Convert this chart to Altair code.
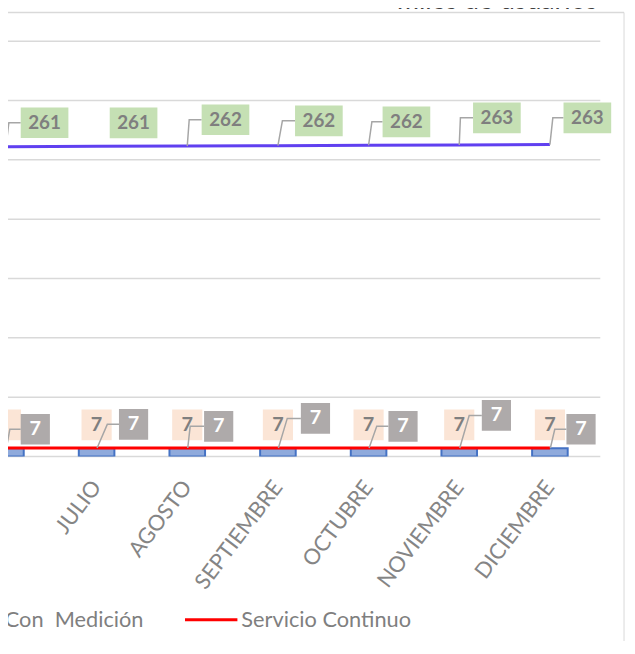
import altair as alt
import pandas as pd

# ---------------- data ----------------
months = ["JUNIO", "JULIO", "AGOSTO", "SEPTIEMBRE", "OCTUBRE", "NOVIEMBRE", "DICIEMBRE"]
usuarios_totales = [261.1, 261.4, 261.6, 261.9, 262.3, 262.6, 262.9]   # blue line
con_medicion = [6.9, 6.9, 6.9, 6.9, 6.9, 6.9, 6.9]                     # bars
servicio_continuo = [7.2, 7.2, 7.2, 7.2, 7.2, 7.2, 7.2]                # red line
y_ticks = [0, 50, 100, 150, 200, 250, 300, 350]
legend_labels = ["Con  Medición", "Servicio Continuo"]
title_text = "miles de usuarios"

# ---------------- layout / style ----------------
PX_X = 93.2                 # pixels per month
W, H = 616, 420
GRID_W = 599
XMIN = 0.0773
XMAX = XMIN + W / PX_X
YMAX = 350
PX_Y = H / YMAX
FONT = "Lato"
GRAY_TXT = "#7F7F7F"

# data-label placement (pixel offsets from the data point)
green_dx = [39.7, 38.0, 39.3, 42.1, 38.9, 38.7, 38.5]
green_dy = [24.2, 23.8, 26.6, 25.2, 23.7, 27.4, 27.0]
green_knee = [3.0, None, 2.0, 4.6, 3.4, 1.2, 3.0]
gray_dx = [30.2, 38.0, 32.3, 38.6, 35.4, 38.2, 32.0]
gray_dy = [18.9, 23.9, 21.9, 29.9, 21.9, 32.9, 18.9]
gray_knee = [4.0, 11.0, 3.0, 9.6, 8.4, 10.2, 5.0]
peach_dx = [0, 0, 0, 0, 0, 0, 0]
peach_dy = [23.7, 23.7, 23.7, 23.7, 23.7, 23.7, 23.7]


def boxes(values, dx, dy, w, h):
    rows = []
    for i, (v, a, b) in enumerate(zip(values, dx, dy)):
        cx = i + a / PX_X
        cy = v + b / PX_Y
        rows.append(dict(i=i, cx=cx, cy=cy,
                         x0=cx - w / 2 / PX_X, x1=cx + w / 2 / PX_X,
                         y0=cy - h / 2 / PX_Y, y1=cy + h / 2 / PX_Y,
                         label=f"{v:.0f}"))
    return pd.DataFrame(rows)


def leaders(values, dx, dy, knee, w, tag, start=0.5):
    rows = []
    for i, (v, a, b, k) in enumerate(zip(values, dx, dy, knee)):
        if k is None:
            continue
        yk = v + b / PX_Y
        pts = [(i + start / PX_X, v), (i + k / PX_X, yk), (i + (a - w / 2) / PX_X, yk)]
        for j, (px, py) in enumerate(pts):
            rows.append(dict(id=f"{tag}{i}", k=j, lx=px, ly=py))
    return pd.DataFrame(rows)


df = pd.DataFrame({"i": list(range(len(months))), "month": months,
                   "total": usuarios_totales, "con": con_medicion, "cont": servicio_continuo})

xs = alt.Scale(domain=[XMIN, XMAX], nice=False, zero=False)
ys = alt.Scale(domain=[0, YMAX], nice=False, zero=True)


def X(f):
    return alt.X(f, scale=xs, axis=None)


def Y(f):
    return alt.Y(f, scale=ys, axis=None)


grid = alt.Chart(pd.DataFrame({"v": y_ticks})).mark_rule(color="#D9D9D9", strokeWidth=1.5).encode(
    y=Y("v:Q"), x=alt.value(0), x2=alt.value(GRID_W))

xlabels = alt.Chart(df[df["i"] >= 1]).mark_text(
    font=FONT, fontSize=22, color="#858585", angle=307, align="right", baseline="middle").encode(
    x=X("i:Q"), y=alt.value(H + 27), text="month:N")

bars = alt.Chart(df).mark_bar(size=36, fill="#8FAADC", stroke="#4472C4", strokeWidth=2, clip=True).encode(
    x=X("i:Q"), y=Y("con:Q"))
red = alt.Chart(df).mark_line(color="#FF0000", strokeWidth=3, clip=True).encode(
    x=X("i:Q"), y=Y("cont:Q"))
blue = alt.Chart(df).mark_line(color="#6040F0", strokeWidth=3, clip=True).encode(
    x=X("i:Q"), y=Y("total:Q"))


def box_layers(bdf, fill, txt_color, size, first_text=0):
    r = alt.Chart(bdf).mark_rect(fill=fill, clip=True).encode(
        x=X("x0:Q"), x2="x1:Q", y=Y("y0:Q"), y2="y1:Q")
    t = alt.Chart(bdf[bdf["i"] >= first_text]).mark_text(
        font=FONT, fontSize=size, fontWeight="bold", color=txt_color,
        baseline="middle", align="center", clip=True).encode(
        x=X("cx:Q"), y=Y("cy:Q"), text="label:N")
    return r, t


def leader_layer(ldf):
    return alt.Chart(ldf).mark_line(color="#A6A6A6", strokeWidth=1.5, clip=True).encode(
        x=X("lx:Q"), y=Y("ly:Q"), detail="id:N", order="k:Q")


# the first bar label sits past the left edge of the view, so only its box shows
peach_r, peach_t = box_layers(boxes(con_medicion, peach_dx, peach_dy, 31, 31), "#FBE5D6", GRAY_TXT, 20, 1)
gray_r, gray_t = box_layers(boxes(servicio_continuo, gray_dx, gray_dy, 30, 31), "#AEAAAA", "#FFFFFF", 20)
green_r, green_t = box_layers(boxes(usuarios_totales, green_dx, green_dy, 49, 31), "#C5E0B4", GRAY_TXT, 19)
gray_lead = leader_layer(leaders(servicio_continuo, gray_dx, gray_dy, gray_knee, 30, "g"))
green_lead = leader_layer(leaders(usuarios_totales, green_dx, green_dy, green_knee, 49, "v", start=0))

one = pd.DataFrame({"t": [0]})
legend_a = alt.Chart(pd.DataFrame({"t": [legend_labels[0].replace("  ", "\u00a0 ")]})).mark_text(
    font=FONT, fontSize=22, color=GRAY_TXT, align="right", baseline="middle").encode(
    text="t:N", x=alt.value(137), y=alt.value(585))
legend_sw = alt.Chart(one).mark_rule(color="#FF0000", strokeWidth=3).encode(
    x=alt.value(179), x2=alt.value(232), y=alt.value(585))
legend_b = alt.Chart(pd.DataFrame({"t": [legend_labels[1]]})).mark_text(
    font=FONT, fontSize=22, color=GRAY_TXT, align="left", baseline="middle").encode(
    text="t:N", x=alt.value(236), y=alt.value(585))

border_top = alt.Chart(one).mark_rule(color="#D9D9D9", strokeWidth=1.5).encode(
    x=alt.value(0), x2=alt.value(623), y=alt.value(-29))
border_right = alt.Chart(one).mark_rule(color="#D9D9D9", strokeWidth=1).encode(
    x=alt.value(623), y=alt.value(-29), y2=alt.value(H + 200))
title = alt.Chart(pd.DataFrame({"t": [title_text]})).mark_text(
    font=FONT, fontSize=27, color="#404040", align="right", baseline="alphabetic").encode(
    text="t:N", x=alt.value(596), y=alt.value(-33))

chart = alt.layer(
    grid, xlabels,
    bars, red, blue,
    peach_r, peach_t,
    gray_lead, green_lead,
    gray_r, gray_t,
    green_r, green_t,
    legend_a, legend_sw, legend_b,
    border_top, border_right, title,
).properties(
    width=W, height=H,
    autosize=alt.AutoSizeParams(type="none"),
    padding={"left": 0, "top": 30, "right": 10, "bottom": 183},
).configure_view(stroke=None)

chart.save("out.html", embed_options={"renderer": "svg", "actions": False})
